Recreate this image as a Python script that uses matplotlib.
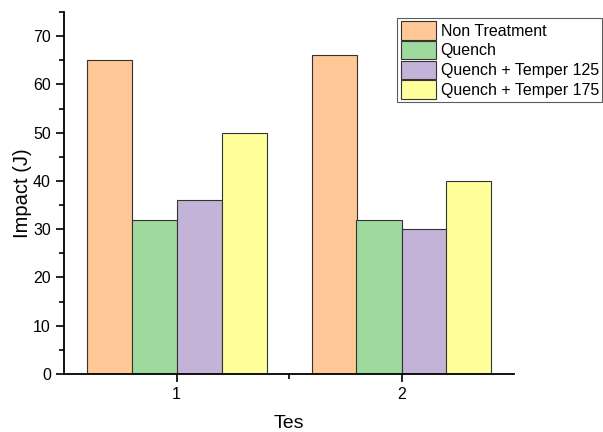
import matplotlib.pyplot as plt
import numpy as np

plt.rcParams['font.family'] = ['Liberation Sans', 'DejaVu Sans']

tests = [1, 2]
series_names = ['Non Treatment', 'Quench', 'Quench + Temper 125', 'Quench + Temper 175']
non_treatment = [65, 66]
quench = [32, 32]
temper_125 = [36, 30]
temper_175 = [50, 40]
colors = ['#FFC896', '#9ED99E', '#C3B3D9', '#FFFF9C']

fig = plt.figure(figsize=(6.03, 4.32), dpi=100)
ax = fig.add_axes([64 / 603, 1 - 374 / 432, 450 / 603, 362 / 432])

w = 0.2
x = np.array(tests, dtype=float)
all_series = [non_treatment, quench, temper_125, temper_175]
handles = []
for i, vals in enumerate(all_series):
    h = ax.bar(x + (i - 1.5) * w, vals, w, color=colors[i], edgecolor='#333333',
               linewidth=0.8, label=series_names[i])
    handles.append(h)

ax.set_xlim(0.5, 2.5)
ax.set_ylim(0, 75)
ax.set_xticks(tests)
ax.set_xticks([1.5], minor=True)
ax.set_yticks(np.arange(0, 71, 10))
ax.set_yticks(np.arange(5, 76, 10), minor=True)
ax.tick_params(which='major', direction='out', length=6, width=1.2, labelsize=11.5)
ax.tick_params(which='minor', direction='out', length=3.5, width=1.2)
for s in ['top', 'right']:
    ax.spines[s].set_visible(False)
for s in ['left', 'bottom']:
    ax.spines[s].set_linewidth(1.3)

ax.set_xlabel('Tes', fontsize=14, labelpad=9)
ax.set_ylabel('Impact (J)', fontsize=14.5, labelpad=1)

leg = fig.legend(handles=handles, loc='upper right', bbox_to_anchor=(602 / 603, 1 - 18 / 432),
                 fontsize=11.5, frameon=True, fancybox=False, edgecolor='#333333',
                 borderpad=0.2, labelspacing=0.08, handlelength=2.2, handleheight=1.4,
                 handletextpad=0.3, borderaxespad=0)
leg.get_frame().set_linewidth(0.8)

fig.savefig('out.png', dpi=100)
